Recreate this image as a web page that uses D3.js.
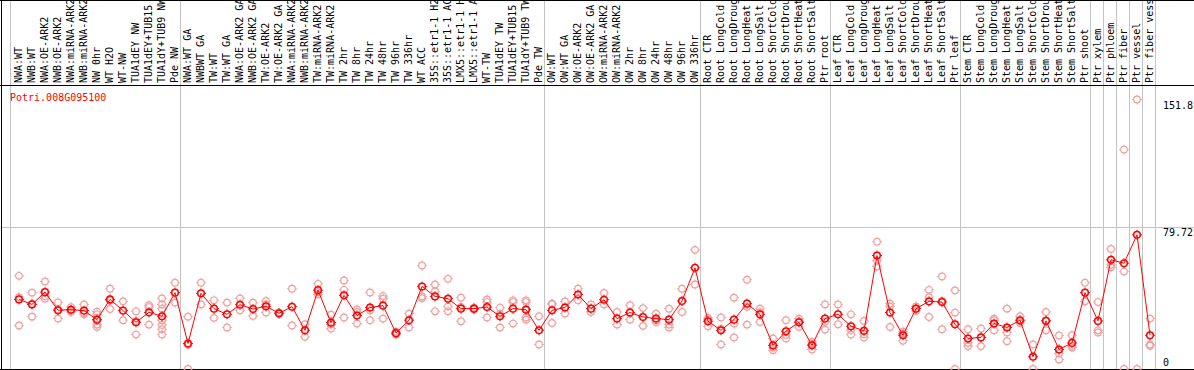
<!DOCTYPE html>
<html><head><meta charset="utf-8">
<script src="https://cdn.jsdelivr.net/npm/d3@7/dist/d3.min.js"></script>
<style>html,body{margin:0;padding:0;background:#fff;}svg{display:block;}</style>
</head><body>
<svg id="chart" width="1194" height="370"></svg>
<script>
const geneId = "Potri.008G095100";
const categories = ["NWA:WT","NWB:WT","NWA:OE-ARK2","NWB:OE-ARK2","NWA:miRNA-ARK2","NWB:miRNA-ARK2","NW 0hr","WT H2O","WT-NW","TUA1dEY NW","TUA1dEY+TUB15 NW","TUA1dY+TUB9 NW","Pde NW",
"NWA:WT GA","NWBWT GA","TW:WT","TW:WT GA","NWA:OE-ARK2 GA","NWB:OE-ARK2 GA","TW:OE-ARK2","TW:OE-ARK2 GA","NWA:miRNA-ARK2","NWB:miRNA-ARK2","TW:miRNA-ARK2","TW:miRNA-ARK2","TW 2hr","TW 8hr","TW 24hr","TW 48hr","TW 96hr","TW 336hr","WT ACC","35S::etr1-1 H2O","35S::etr1-1 ACC","LMX5::etr1-1 H2O","LMX5::etr1-1 ACC","WT-TW","TUA1dEY TW","TUA1dEY+TUB15 TW","TUA1dY+TUB9 TW","Pde TW",
"OW:WT","OW:WT GA","OW:OE-ARK2","OW:OE-ARK2 GA","OW:miRNA-ARK2","OW:miRNA-ARK2","OW 2hr","OW 8hr","OW 24hr","OW 48hr","OW 96hr","OW 336hr",
"Root CTR","Root LongCold","Root LongDrought","Root LongHeat","Root LongSalt","Root ShortCold","Root ShortDrought","Root ShortHeat","Root ShortSalt","Ptr root",
"Leaf CTR","Leaf LongCold","Leaf LongDrought","Leaf LongHeat","Leaf LongSalt","Leaf ShortCold","Leaf ShortDrought","Leaf ShortHeat","Leaf ShortSalt","Ptr leaf",
"Stem CTR","Stem LongCold","Stem LongDrought","Stem LongHeat","Stem LongSalt","Stem ShortCold","Stem ShortDrought","Stem ShortHeat","Stem ShortSalt","Ptr shoot",
"Ptr xylem","Ptr phloem","Ptr fiber","Ptr vessel","Ptr fiber vessel"];

const means = [39.2,36.4,43.3,33.1,33.4,32.9,27.8,39.2,32.9,26.3,31.9,29.7,43.0,
14.4,42.6,34.0,30.8,36.2,33.8,35.3,31.4,35.1,21.8,44.4,26.1,41.5,30.1,34.6,35.7,20.2,27.5,46.5,40.9,39.6,34.0,34.0,34.9,29.7,34.0,33.4,21.8,
33.1,34.6,42.0,34.0,39.0,28.4,31.8,29.3,28.4,27.8,38.3,57.0,
26.9,21.8,27.8,36.8,30.8,13.3,21.3,26.3,13.4,28.4,
30.8,24.1,21.5,63.9,31.8,19.0,34.0,38.1,37.7,25.2,
17.2,17.8,25.6,23.4,27.5,6.9,27.1,11.0,14.7,43.0,
27.1,61.5,59.6,75.6,19.0];

const replicates = [
[52.5,40.5,24.5],[43.0,29.5,36.7],[49.3,39.6,41.0],[37.5,28.4,33.4],[34.9,32.1,33.3],[36.4,31.5,30.8],[32.3,30.8,27.5,25.0,23.7],[45.2,33.8,38.6],[38.1,27.5],[32.5,19.4,27.0],[35.9,34.9,25.0],[39.8,36.4,34.0,27.5,24.8,22.4,19.4],[48.6,37.4],
[29.5,0,13.7],[48.6,36.4],[38.7,28.8],[37.4,23.4],[39.8,33.1],[37.4,29.9],[38.3,36.4,31.8],[31.8,31.0,31.4],[45.2,24.5],[25.2,18.1],[48.0,42.0,43.3],[30.6,22.8,25.0],[49.9,44.6,29.0],[33.6,32.1,25.6],[43.1,33.1,27.5],[41.1,39.6,28.4],[21.0,19.4,20.2],[31.2,23.4],[58.3,40.9,39.9],[47.6,43.7,32.5],[50.8,35.3,32.5],[40.2,26.9,35.0],[34.5,33.5,34.0],[39.2,37.7,29.0],[34.6,23.4,31.0],[38.7,37.7,25.6],[38.7,37.7,29.0,27.8,33.8],[29.7,13.8],
[36.8,25.9,36.5],[38.1,31.2],[45.2,38.7],[36.4,32.1],[42.8,36.4],[32.1,25.0],[35.9,27.8],[34.3,24.3],[31.2,27.5,26.5],[34.0,25.0,23.4],[45.2,32.1],[67.1,47.6],
[27.8,24.1,28.8],[29.0,13.8,22.6],[40.2,25.6,17.8],[50.3,25.0,35.0],[34.0,26.5,32.0],[17.2,10.6,12.0],[27.5,17.2,19.2],[28.4,23.7,26.8],[15.3,11.0,14.0],[36.4,22.2,26.6],
[36.4,25.2],[30.8,19.4,22.0],[27.1,17.8,19.6],[71.7,61.0,57.7],[36.8,35.3,23.7],[20.0,15.9,21.0],[35.3,32.7,34.0],[44.6,40.5,29.3],[52.1,38.3,22.4],[44.3,31.8,0],
[22.4,14.7,12.9],[22.8,12.9],[28.4,27.5,21.8],[34.0,20.6,15.7],[29.7,25.9,26.9],[13.8,0],[32.1,21.8,27.3],[18.9,5.4,8.8],[19.0,12.1,13.0],[48.6,38.1],
[37.7,21.8,20.6],[67.6,58.7,57.3],[123.6,54.9,0],[151.8,0],[28.4,13.8,13.1]];

const groupEnds = [12,40,52,62,72,82,83,84,85,86,87];
const yTicks = [151.8, 79.72, 0];
const yTickLabels = ["151.8","79.72","0"];

const W = 1194, H = 370;
const svg = d3.select("#chart");
const FONT = "'DejaVu Sans Mono', 'Liberation Mono', monospace";

const x = d3.scaleBand().domain(d3.range(categories.length)).range([12.5, 12.5 + 13*categories.length]).padding(0);
const cx = i => x(i) + x.bandwidth()/2;
const y = d3.scaleLinear().domain([0, 151.8]).range([369, 99.5]);

svg.append("defs").append("clipPath").attr("id","labclip")
  .append("rect").attr("x",0).attr("y",1).attr("width",W).attr("height",84);

// gray separators
svg.append("line").attr("x1",10.5).attr("x2",10.5).attr("y1",0).attr("y2",370).attr("stroke","#c4c4c4");
groupEnds.forEach(g=>{
  const xx = Math.round(cx(g)+5)+0.5;
  svg.append("line").attr("x1",xx).attr("x2",xx).attr("y1",0).attr("y2",370).attr("stroke","#c4c4c4");
});
// gray horizontal at middle tick
svg.append("line").attr("x1",1).attr("x2",W).attr("y1",Math.round(y(79.72))+0.5).attr("y2",Math.round(y(79.72))+0.5).attr("stroke","#c4c4c4");

// category labels
svg.append("g").attr("clip-path","url(#labclip)").selectAll("text").data(categories).join("text")
  .attr("transform",(d,i)=>`translate(${cx(i)-0.5},83) rotate(-90)`)
  .attr("dy","0.36em")
  .attr("font-family",FONT).attr("font-size",10).attr("fill","#000")
  .text(d=>d);

// black borders
svg.append("line").attr("x1",0).attr("x2",W).attr("y1",0.5).attr("y2",0.5).attr("stroke","#000");
svg.append("line").attr("x1",0).attr("x2",W).attr("y1",85.5).attr("y2",85.5).attr("stroke","#000");
svg.append("line").attr("x1",0).attr("x2",W).attr("y1",369.5).attr("y2",369.5).attr("stroke","#000");
svg.append("line").attr("x1",1.5).attr("x2",1.5).attr("y1",0).attr("y2",370).attr("stroke","#000");

// title
svg.append("text").attr("x",10).attr("y",101).attr("font-family",FONT).attr("font-size",10).attr("fill","#ff0000").text(geneId);

// y labels
svg.append("g").selectAll("text").data(yTicks).join("text")
  .attr("x",1163)
  .attr("y",(d,i)=> i===2 ? y(d)-3 : y(d)+9)
  .attr("font-family",FONT).attr("font-size",10).attr("fill","#000")
  .text((d,i)=>yTickLabels[i]);

function marker(g, px, py, color, sw, r){
  g.append("circle").attr("cx",px).attr("cy",py).attr("r",r).attr("fill","none").attr("stroke",color).attr("stroke-width",sw);
  const t = r+sw/2;
  [[0,-1],[0,1],[-1,0],[1,0]].forEach(([dx,dy])=>{
    g.append("line").attr("x1",px+dx*(t-0.5)).attr("y1",py+dy*(t-0.5)).attr("x2",px+dx*(t+1)).attr("y2",py+dy*(t+1))
      .attr("stroke",color).attr("stroke-width",1);
  });
}

// replicates
const gr = svg.append("g");
replicates.forEach((arr,i)=>arr.forEach(v=>marker(gr, cx(i), y(v), "#f0a0a0", 1.2, 3.3)));

// mean line
svg.append("path").datum(means)
  .attr("d", d3.line().x((d,i)=>cx(i)).y(d=>y(d)))
  .attr("fill","none").attr("stroke","#ff0000").attr("stroke-width",1);

// means
const gm = svg.append("g");
means.forEach((v,i)=>marker(gm, cx(i), y(v), "#ff0000", 1.5, 3.3));
</script>
</body></html>
